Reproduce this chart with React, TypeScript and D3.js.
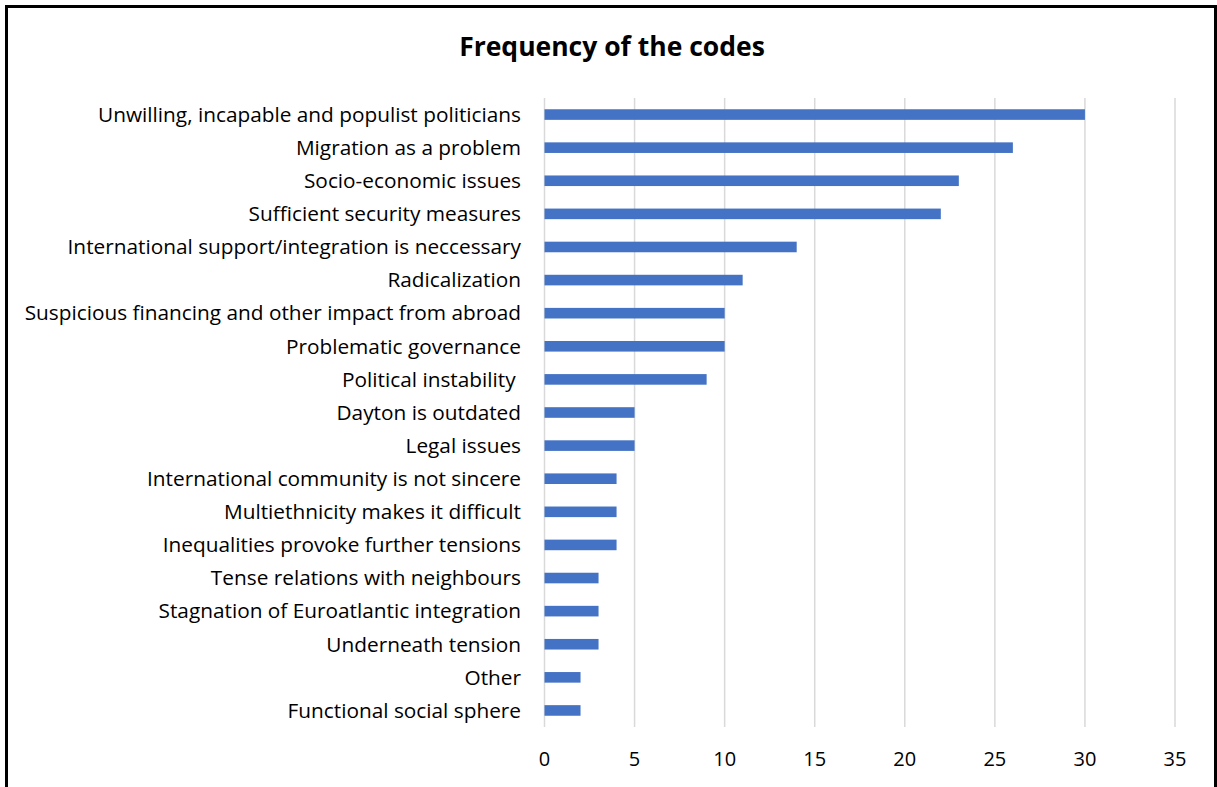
import React from "react";
import * as d3 from "d3";

const categories = [
  "Unwilling, incapable and populist politicians",
  "Migration as a problem",
  "Socio-economic issues",
  "Sufficient security measures",
  "International support/integration is neccessary",
  "Radicalization",
  "Suspicious financing and other impact from abroad",
  "Problematic governance",
  "Political instability ",
  "Dayton is outdated",
  "Legal issues",
  "International community is not sincere",
  "Multiethnicity makes it difficult",
  "Inequalities provoke further tensions",
  "Tense relations with neighbours",
  "Stagnation of Euroatlantic integration",
  "Underneath tension",
  "Other",
  "Functional social sphere",
];
const values = [30, 26, 23, 22, 14, 11, 10, 10, 9, 5, 5, 4, 4, 4, 3, 3, 3, 2, 2];
const xTicks = [0, 5, 10, 15, 20, 25, 30, 35];
const title = "Frequency of the codes";

const W = 1217;
const H = 787;
const plotLeft = 544.5;
const plotRight = 1175;
const plotTop = 98;
const plotBottom = 727;
const font = "'Open Sans', 'DejaVu Sans', sans-serif";

export default function App() {
  const x = d3.scaleLinear().domain([0, 35]).range([plotLeft, plotRight]);
  const y = d3
    .scaleBand<string>()
    .domain(categories)
    .range([plotTop, plotBottom])
    .paddingInner(0.68)
    .paddingOuter(0.34);

  return (
    <svg
      width={W}
      height={H}
      style={{ position: "absolute", left: 0, top: 0, display: "block", background: "#fff" }}
    >
      <rect x={0} y={0} width={W} height={H} fill="#fff" />
      <rect x={6.5} y={6.5} width={1209} height={H + 20} fill="none" stroke="#000" strokeWidth={3} />
      <text
        x={612}
        y={56}
        textAnchor="middle"
        fontFamily={font}
        fontWeight="bold"
        fontSize={26.5}
        fill="#000"
      >
        {title}
      </text>
      {xTicks.map((t) => (
        <g key={t}>
          <line
            x1={x(t)}
            x2={x(t)}
            y1={plotTop}
            y2={plotBottom}
            stroke="#D9D9D9"
            strokeWidth={1.5}
          />
          <text
            x={x(t)}
            y={766}
            textAnchor="middle"
            fontFamily={font}
            fontSize={20}
            fill="#000"
          >
            {t}
          </text>
        </g>
      ))}
      {categories.map((c, i) => (
        <g key={c}>
          <rect
            x={x(0)}
            y={y(c)!}
            width={x(values[i]) - x(0)}
            height={y.bandwidth()}
            fill="#4472C4"
          />
          <text
            x={521}
            y={y(c)! + y.bandwidth() / 2}
            dy="0.35em"
            textAnchor="end"
            fontFamily={font}
            fontSize={20.8}
            fill="#000"
            style={{ whiteSpace: "pre" }}
          >
            {c}
          </text>
        </g>
      ))}
    </svg>
  );
}
